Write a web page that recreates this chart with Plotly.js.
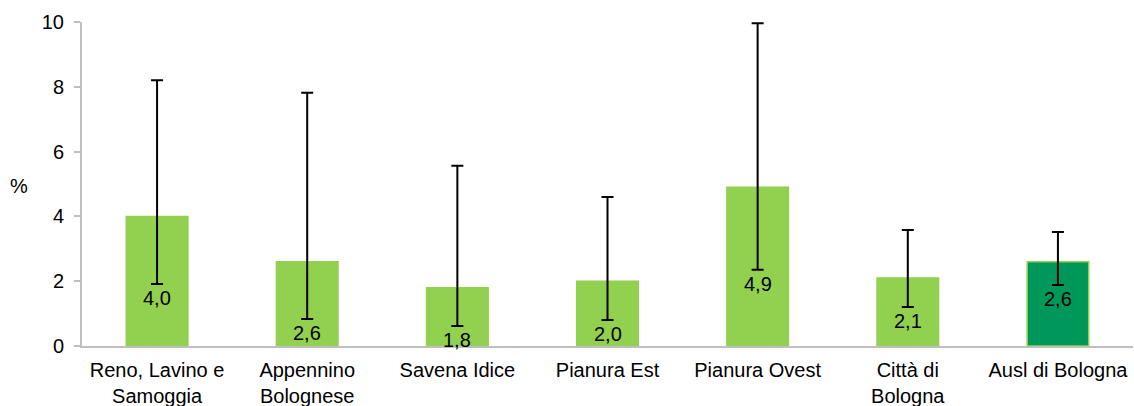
<!DOCTYPE html>
<html>
<head>
<meta charset="utf-8">
<script src="https://cdn.plot.ly/plotly-3.0.1.min.js"></script>
<style>html,body{margin:0;padding:0;background:#fff;}#chart{width:1134px;height:406px;}</style>
</head>
<body>
<div id="chart"></div>
<script>
const categories = ["Reno, Lavino e<br>Samoggia", "Appennino<br>Bolognese", "Savena Idice", "Pianura Est", "Pianura Ovest", "Città di<br>Bologna", "Ausl di Bologna"];
const values = [4.0, 2.6, 1.8, 2.0, 4.9, 2.1, 2.6];
const upper = [8.2, 7.82, 5.56, 4.6, 9.96, 3.58, 3.52];
const lower = [1.91, 0.83, 0.62, 0.80, 2.35, 1.20, 1.88];
const valueLabels = ["4,0", "2,6", "1,8", "2,0", "4,9", "2,1", "2,6"];
const yTicks = [0, 2, 4, 6, 8, 10];

const light = "#92D050", dark = "#00985A";
const fills = values.map((v, i) => i === values.length - 1 ? dark : light);

const trace = {
  type: "bar",
  x: categories,
  y: values,
  width: 0.41,
  marker: { color: fills, line: { color: light, width: 1.5 } },
  error_y: {
    type: "data", symmetric: false,
    array: upper.map((u, i) => u - values[i]),
    arrayminus: values.map((v, i) => v - lower[i]),
    color: "#000", thickness: 2, width: 6
  },
  hoverinfo: "none"
};

const annotations = categories.map((c, i) => ({
  x: c, y: lower[i], xref: "x", yref: "y",
  text: valueLabels[i], showarrow: false, yanchor: "top", yshift: -1,
  font: { family: "Liberation Sans, Arial, sans-serif", size: 20, color: "#000" }
}));
annotations.push({
  xref: "paper", yref: "paper", x: -0.06, y: 0.495, xanchor: "center", yanchor: "middle",
  text: "%", showarrow: false,
  font: { family: "Liberation Sans, Arial, sans-serif", size: 20, color: "#000" }
});

const layout = {
  width: 1134, height: 406,
  margin: { l: 82, r: 1, t: 22, b: 60 },
  paper_bgcolor: "#fff", plot_bgcolor: "#fff",
  showlegend: false,
  font: { family: "Liberation Sans, Arial, sans-serif", size: 20, color: "#000" },
  xaxis: {
    type: "category", showgrid: false, zeroline: false,
    showline: true, linecolor: "#BFBFBF", linewidth: 2,
    ticks: "", tickfont: { size: 20 }, ticklabelstandoff: 5
  },
  yaxis: {
    range: [0, 10], tickvals: yTicks, ticktext: yTicks.map(String),
    showgrid: false, zeroline: false,
    showline: true, linecolor: "#BFBFBF", linewidth: 2,
    ticks: "outside", ticklen: 6, tickcolor: "#BFBFBF", tickwidth: 2,
    tickfont: { size: 20 }, ticklabelstandoff: 6
  },
  annotations: annotations
};

Plotly.newPlot("chart", [trace], layout, { displayModeBar: false, staticPlot: true });
</script>
</body>
</html>
